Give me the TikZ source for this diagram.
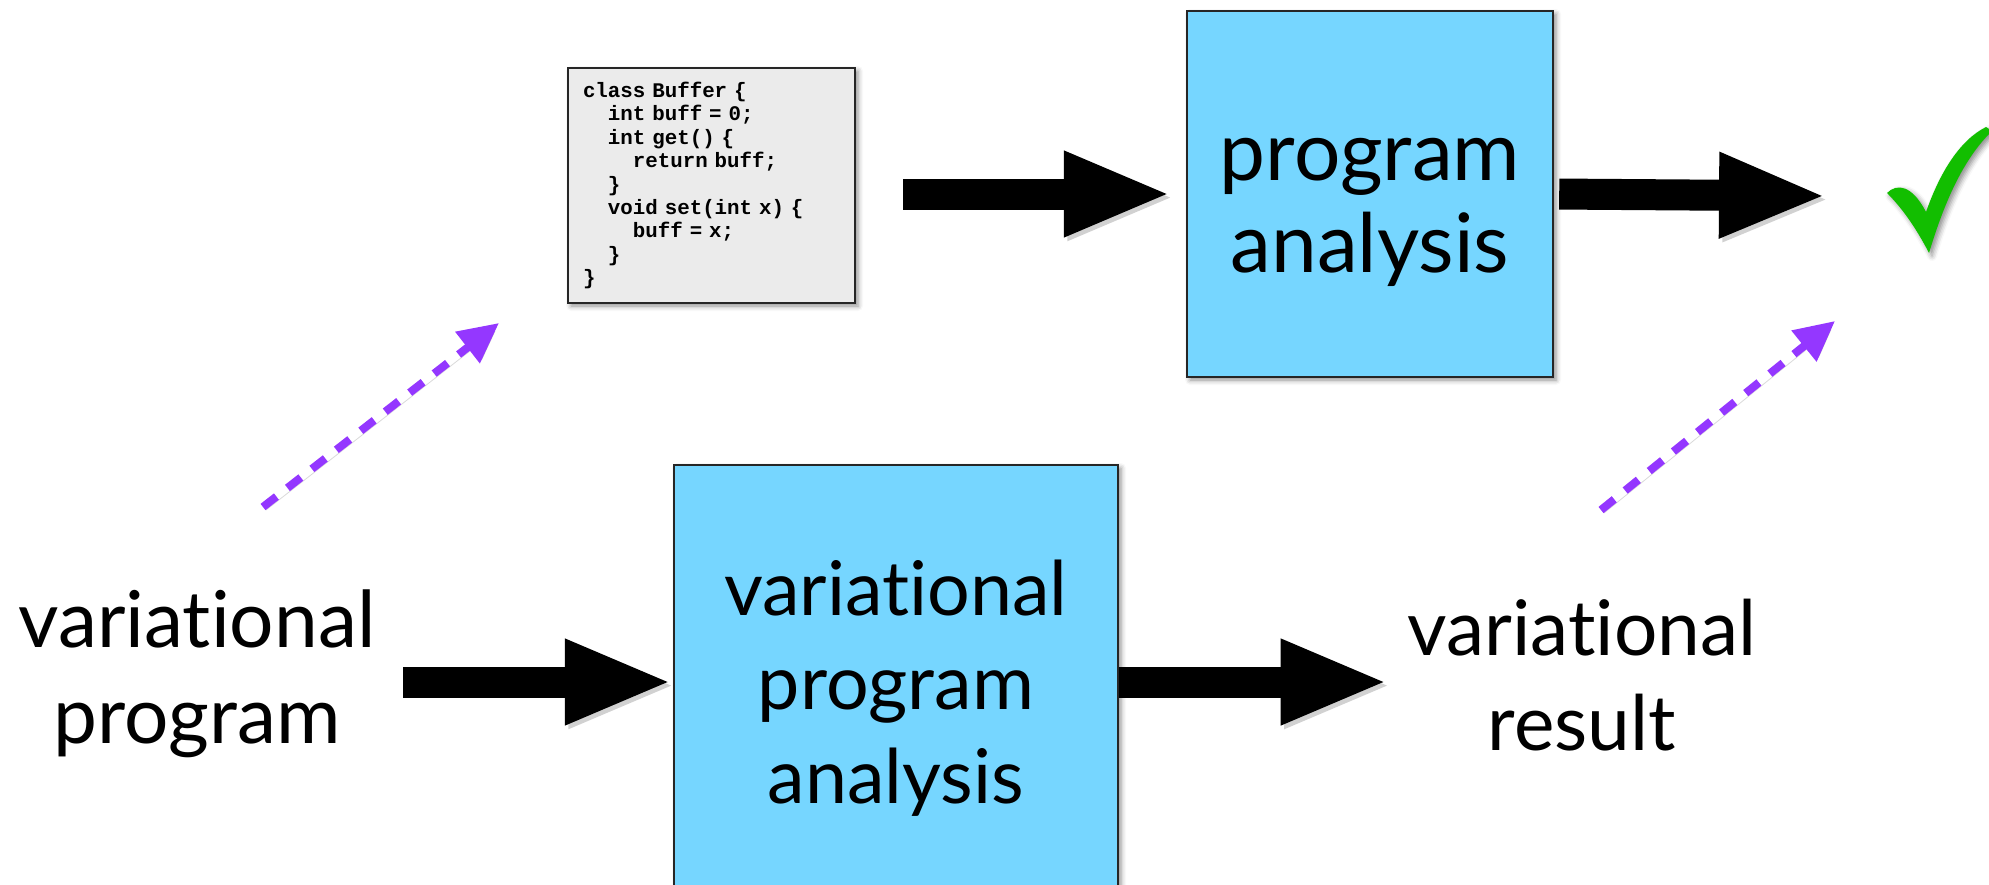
\documentclass[tikz,border=0pt]{standalone}
\usepackage{fontspec}
\setmainfont{Lato}[Ligatures=NoCommon]
\newfontfamily\codefont{Liberation Mono}[WordSpace={1,0,0}]
\usetikzlibrary{arrows.meta,shadows.blur}

\definecolor{boxblue}{HTML}{76D6FF}
\definecolor{vpurple}{HTML}{9437FF}
\definecolor{checkgreen}{HTML}{12BE00}
\definecolor{codegray}{HTML}{EBEBEB}

% fixed-pitch spacing for the listing
\newcommand\listingstyle{\codefont\bfseries\fontsize{10.4}{11.7}\selectfont
  \spaceskip=0.6em\relax}

\begin{document}
\begin{tikzpicture}[x=0.5pt,y=-0.5pt,
  softshadow/.style={blur shadow={shadow xshift=1.5pt, shadow yshift=-1.5pt,
      shadow blur radius=2.5pt, shadow opacity=45}},
  stagebox/.style={draw=black!85, line width=1.2pt, fill=boxblue, inner sep=0pt,
      softshadow},
  codebox/.style={draw=black!85, line width=1.2pt, fill=codegray, inner ysep=0pt,
      inner xsep=7.5pt, align=left, softshadow, font=\listingstyle},
  bigtext/.style={inner sep=0pt, align=center},
  bigarrow/.style={line width=15.5pt, draw=black, -{Triangle[length=54pt, width=39pt]},
      preaction={draw=black, opacity=0.18, transform canvas={shift={(1.8pt,-1.8pt)}}}},
  dasharrow/.style={line width=4pt, draw=vpurple, dash pattern=on 8.5pt off 7pt,
      -{Triangle[length=20pt, width=19pt]},
      preaction={draw=black, opacity=0.15, transform canvas={shift={(1.5pt,-1.5pt)}}}},
]
\useasboundingbox (0,0) rectangle (1989,884);
\clip (0,0) rectangle (1989,884);

% the sample program
\node[codebox, text width=128.5pt, minimum height=117.5pt] (code) at (711.5,185.5)
  {class Buffer \{\\
   \hspace*{1.2em}int buff = 0;\\
   \hspace*{1.2em}int get() \{\\
   \hspace*{2.4em}return buff;\\
   \hspace*{1.2em}\}\\
   \hspace*{1.2em}void set(int x) \{\\
   \hspace*{2.4em}buff = x;\\
   \hspace*{1.2em}\}\\
   \}};

% analysis stages
\node[stagebox, minimum width=183pt, minimum height=183pt] (pa) at (1370,194) {};
\node[bigtext, font=\fontsize{41}{46}\selectfont] (patext) at (1370,212)
  {program\\analysis};
\node[stagebox, minimum width=222pt, minimum height=217pt] (vpa) at (896,682) {};
\node[bigtext, font=\fontsize{37.7}{47}\selectfont] (vpatext) at (896,688)
  {variational\\program\\analysis};

% inputs and outputs
\node[bigtext, minimum width=206pt, font=\fontsize{39.2}{48}\selectfont]
  (vprog) at (197,674) {variational\\program};
\node[bigtext, minimum width=193pt, font=\fontsize{38.3}{47.5}\selectfont]
  (vres) at (1582,675) {variational\\result};

% check mark
\coordinate (checktip) at (1827,196);
\fill[checkgreen, softshadow] (1887,193)
  .. controls (1897,183) and (1912,185) .. (1926,212)
  .. controls (1940,172) and (1960,140) .. (1986,127)
  -- (1992,131)
  .. controls (1966,156) and (1946,196) .. (1929,253)
  .. controls (1915,226) and (1901,207) .. cycle;

% flow arrows
\draw[bigarrow, shorten <=23.5pt, shorten >=7pt] (code.east |- pa.west) -- (pa.west);
\draw[bigarrow, shorten <=2.5pt] (pa.east) -- (checktip);
\draw[bigarrow] (vprog.east |- vpa.west) -- (vpa.west);
\draw[bigarrow] (vpa.east) -- (vpa.east -| vres.west);

% correspondence between the two levels
\coordinate (lfrom) at (263,507);
\coordinate (lto) at (499,323);
\coordinate (rfrom) at (1601,510);
\coordinate (rto) at (1835,321);
\draw[dasharrow] (lfrom) -- (lto);
\draw[dasharrow] (rfrom) -- (rto);
\end{tikzpicture}
\end{document}
